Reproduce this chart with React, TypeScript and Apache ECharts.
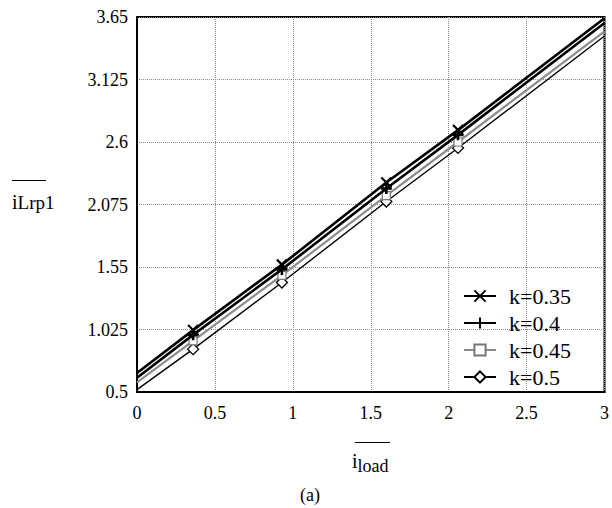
import React, { useEffect, useRef } from "react";
import * as echarts from "echarts";

const xValues = [0, 0.36, 0.93, 1.6, 2.06, 3];
const k035 = [0.66, 1.02, 1.57, 2.26, 2.7, 3.64];
const k040 = [0.62, 0.98, 1.53, 2.21, 2.66, 3.6];
const k045 = [0.58, 0.93, 1.48, 2.15, 2.6, 3.53];
const k050 = [0.52, 0.86, 1.42, 2.1, 2.55, 3.49];
const seriesNames = ["k=0.35", "k=0.4", "k=0.45", "k=0.5"];
const xTicks = [0, 0.5, 1, 1.5, 2, 2.5, 3];
const yTicks = [0.5, 1.025, 1.55, 2.075, 2.6, 3.125, 3.65];

const FONT = "Liberation Serif";

function toData(ys: number[]) {
  return xValues.map((x, i) => {
    const endpoint = i === 0 || i === xValues.length - 1;
    return endpoint ? { value: [x, ys[i]], symbol: "none" } : { value: [x, ys[i]] };
  });
}

export default function App() {
  const ref = useRef<HTMLDivElement>(null);
  useEffect(() => {
    if (!ref.current) return;
    const chart = echarts.init(ref.current, null, { renderer: "svg" });
    const styles = [
      { color: "#000", width: 2.6, symbol: "path://M0,0L10,10M10,0L0,10", size: 10, border: 2.2, fill: "none", bc: "#000" },
      { color: "#000", width: 2.6, symbol: "path://M5,0L5,10M0,5L10,5", size: 11, border: 2.6, fill: "none", bc: "#000" },
      { color: "#8c8c8c", width: 2.2, symbol: "rect", size: 8, border: 1.2, fill: "#fff", bc: "#777" },
      { color: "#000", width: 1.4, symbol: "diamond", size: 11, border: 1.3, fill: "#fff", bc: "#000" },
    ];
    const datasets = [k035, k040, k045, k050];
    chart.setOption({
      animation: false,
      backgroundColor: "#fff",
      textStyle: { fontFamily: FONT },
      grid: { left: 137, right: 7, top: 17, bottom: 116, show: true, borderColor: "#000", borderWidth: 2, backgroundColor: "transparent" },
      xAxis: {
        type: "value",
        min: xTicks[0],
        max: xTicks[xTicks.length - 1],
        interval: 0.5,
        axisLine: { show: true, lineStyle: { color: "#000", width: 2 } },
        axisTick: { show: false },
        axisLabel: { color: "#000", fontFamily: FONT, fontSize: 18, margin: 12, formatter: (v: number) => String(+v.toFixed(3)) },
        splitLine: { show: true, lineStyle: { color: "#8a8a8a", type: "dotted", width: 1 } },
      },
      yAxis: {
        type: "value",
        min: yTicks[0],
        max: yTicks[yTicks.length - 1],
        interval: 0.525,
        axisLine: { show: true, lineStyle: { color: "#000", width: 2 } },
        axisTick: { show: false },
        axisLabel: {
          color: "#000",
          fontFamily: FONT,
          fontSize: 18,
          margin: 9,
          formatter: (v: number) => {
            const t = yTicks.find((y) => Math.abs(y - v) < 1e-6);
            return t === undefined ? "" : String(t);
          },
        },
        splitLine: { show: true, lineStyle: { color: "#8a8a8a", type: "dotted", width: 1 } },
      },
      legend: {
        orient: "vertical",
        left: 458,
        top: 280,
        itemWidth: 32,
        itemHeight: 14,
        itemGap: 5,
        textStyle: { fontFamily: FONT, fontSize: 22, color: "#000", padding: [0, 0, 0, 8] },
        data: seriesNames,
      },
      series: datasets.map((ys, i) => ({
        name: seriesNames[i],
        type: "line",
        data: toData(ys),
        symbol: styles[i].symbol,
        symbolSize: styles[i].size,
        showAllSymbol: true,
        lineStyle: { color: styles[i].color, width: styles[i].width },
        itemStyle: { color: styles[i].fill, borderColor: styles[i].bc, borderWidth: styles[i].border },
        z: 10 - i,
      })),
      graphic: [
        { type: "line", shape: { x1: 12, y1: 180.5, x2: 46, y2: 180.5 }, style: { stroke: "#000", lineWidth: 1 } },
        {
          type: "text",
          left: 12,
          top: 192,
          style: { text: "{a|i}{b|Lrp1}", rich: { a: { fontFamily: FONT, fontSize: 20, fill: "#000" }, b: { fontFamily: FONT, fontSize: 19, fill: "#000" } } },
        },
        { type: "line", shape: { x1: 355, y1: 442.5, x2: 390, y2: 442.5 }, style: { stroke: "#000", lineWidth: 1 } },
        {
          type: "text",
          left: 352,
          top: 451,
          style: { text: "{a|i}{b|load}", rich: { a: { fontFamily: FONT, fontSize: 20, fill: "#000", verticalAlign: "top" }, b: { fontFamily: FONT, fontSize: 18, fill: "#000", padding: [6, 0, 0, 0] } } },
        },
        { type: "text", left: 300, top: 486, style: { text: "(a)", fontFamily: FONT, fontSize: 18, fill: "#000" } },
      ],
    });
    return () => chart.dispose();
  }, []);
  return <div ref={ref} style={{ position: "fixed", left: 0, top: 0, width: 612, height: 508 }} />;
}
